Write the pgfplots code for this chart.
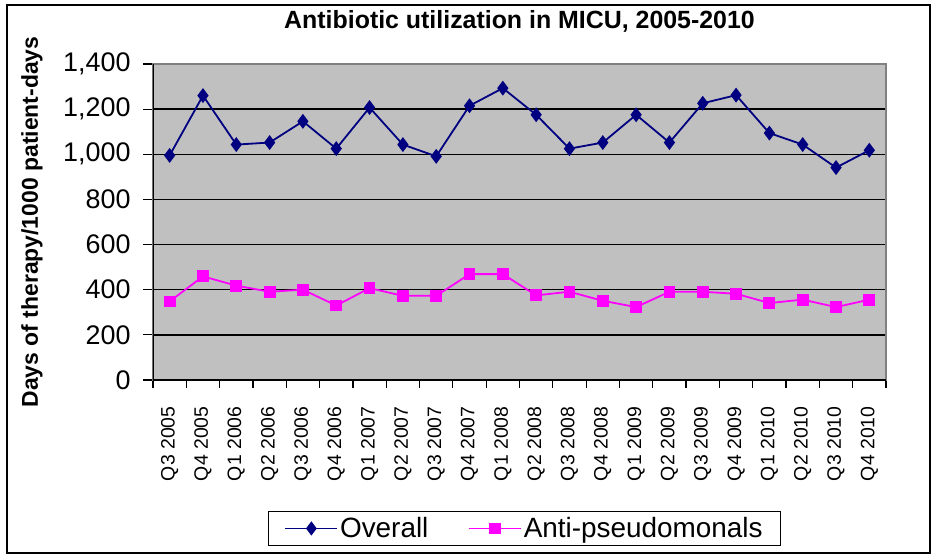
\documentclass[border=0pt]{standalone}
\usepackage{pgfplots}
\pgfplotsset{compat=1.18}
\usepackage{fontspec}
\setmainfont{Liberation Sans}

\definecolor{plotgray}{HTML}{C0C0C0}
\definecolor{framegray}{HTML}{808080}
\definecolor{overall}{HTML}{000080}
\definecolor{antip}{HTML}{FF00FF}

\begin{document}
\begin{tikzpicture}
\begin{axis}[
scale only axis,
width=733bp, height=316bp,
xmin=-0.5, xmax=21.5,
ymin=0, ymax=1400,
ytick={0,200,...,1400},
xtick={0,...,21},
xticklabels={Q3 2005,Q4 2005,Q1 2006,Q2 2006,Q3 2006,Q4 2006,Q1 2007,Q2 2007,Q3 2007,Q4 2007,Q1 2008,Q2 2008,Q3 2008,Q4 2008,Q1 2009,Q2 2009,Q3 2009,Q4 2009,Q1 2010,Q2 2010,Q3 2010,Q4 2010},
minor xtick={-0.5,0.5,...,21.5},
tick align=outside,
major tick length=10bp,
minor tick length=8bp,
xtick style={draw=none},
minor x tick style={draw=black, line width=1.2bp},
ytick style={draw=black, line width=1.2bp},
tick pos=left,
ymajorgrids,
major grid style={black, line width=1.3bp},
axis background/.style={fill=plotgray},
axis line style={draw=framegray, line width=1.3bp},
/pgf/number format/assume math mode=true,
/pgf/number format/.cd, 1000 sep={,},
/pgfplots/.cd,
yticklabel style={font=\fontsize{27}{30}\selectfont, xshift=-9bp},
xticklabel style={font=\fontsize{19.5}{22}\selectfont, rotate=90, anchor=east, xshift=-13bp},
title={Antibiotic utilization in MICU, 2005-2010},
title style={font=\fontsize{25}{28}\selectfont\bfseries, at={(axis description cs:0.5,1)}, anchor=center, yshift=37bp},
ylabel={Days of therapy/1000 patient-days},
ylabel style={font=\fontsize{23}{26}\selectfont\bfseries, at={(axis description cs:0,0.5)}, anchor=center, yshift=121bp},
legend style={at={(axis description cs:0.507,-0.415)}, anchor=north, legend columns=2, draw=black, fill=white, line width=1bp, inner xsep=16bp, inner ysep=4bp, font=\fontsize{28}{31}\selectfont, /tikz/every even column/.append style={column sep=38bp}},
legend image code/.code={\draw[line width=1.4bp, mark repeat=2, mark phase=2] plot coordinates {(0bp,0bp) (26bp,0bp) (52bp,0bp)};},
]
\addplot[color=overall, line width=1.8bp, mark=diamond*, mark size=6bp, mark options={solid, fill=overall}] coordinates {
(0,995) (1,1260) (2,1043) (3,1052) (4,1146) (5,1025) (6,1207) (7,1043) (8,991) (9,1215) (10,1293)
(11,1175) (12,1025) (13,1052) (14,1175) (15,1052) (16,1226) (17,1262) (18,1094) (19,1043) (20,941) (21,1018)};
\addplot[color=antip, line width=1.8bp, mark=square*, mark size=5bp, mark options={solid, fill=antip}] coordinates {
(0,348) (1,459) (2,418) (3,391) (4,400) (5,330) (6,407) (7,373) (8,373) (9,469) (10,469)
(11,375) (12,391) (13,351) (14,323) (15,391) (16,391) (17,382) (18,341) (19,356) (20,323) (21,356)};
\legend{Overall,Anti-pseudomonals}
\draw[black, line width=1.5bp] (rel axis cs:0,1) -- (rel axis cs:0,0) -- (rel axis cs:1,0);
\end{axis}
% outer chart frame and page size (axis origin sits at image pixel 153,380)
\draw[black, line width=1.5bp] (-146bp,-173bp) rectangle (777bp,375bp);
\useasboundingbox (-153bp,-174bp) rectangle (783bp,380bp);
\end{tikzpicture}
\end{document}
